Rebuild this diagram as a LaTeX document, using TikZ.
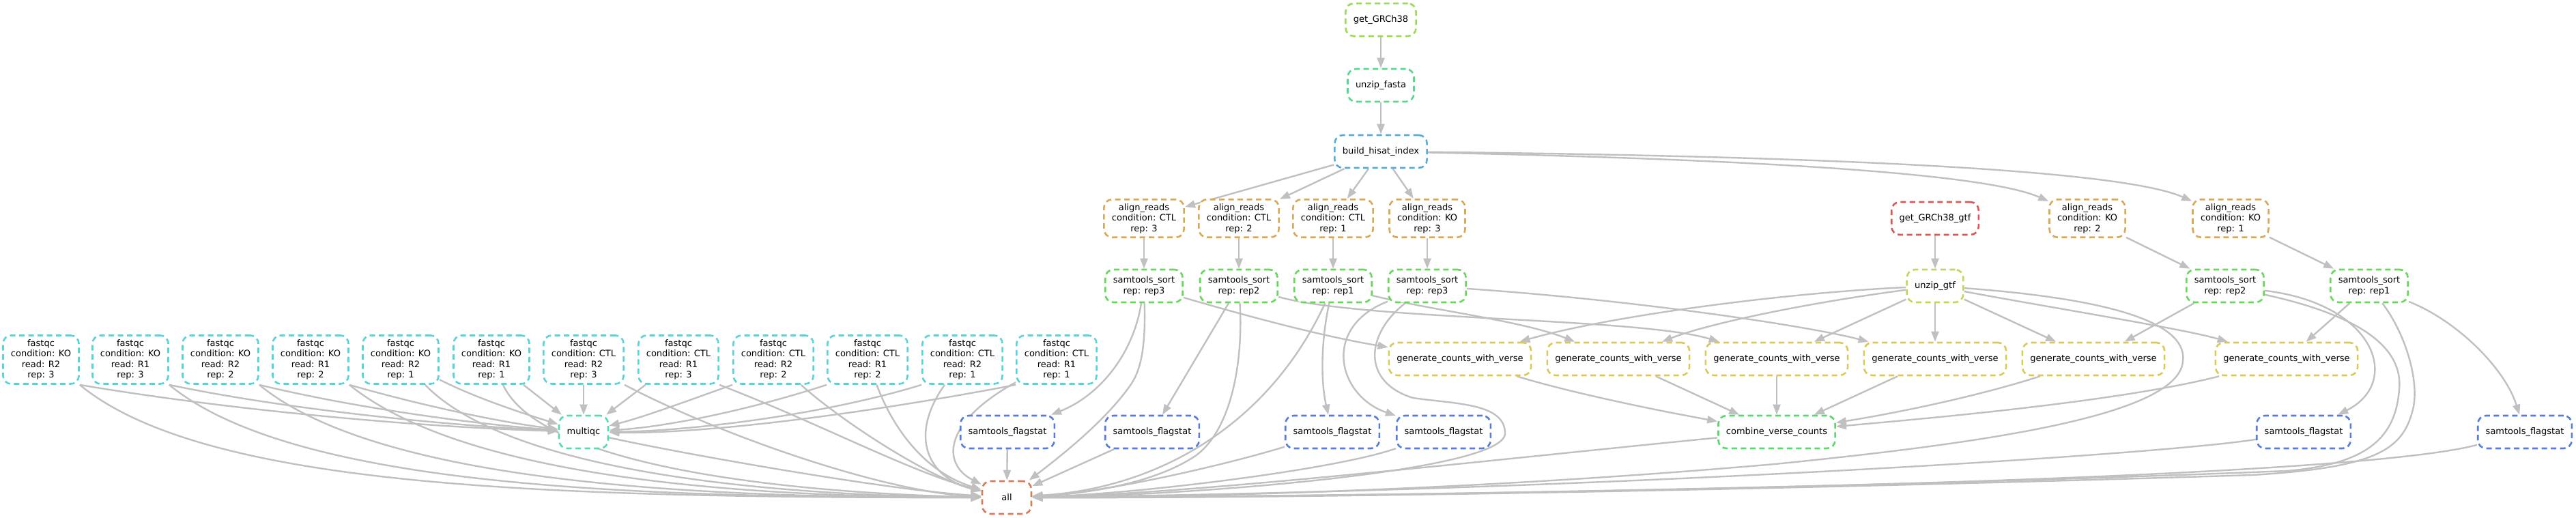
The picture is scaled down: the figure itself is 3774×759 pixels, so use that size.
\documentclass[tikz,border=0pt]{standalone}
\usepackage{fontspec}
\setmainfont{DejaVu Sans}
\usetikzlibrary{arrows.meta,backgrounds}
\definecolor{cgrch}{HTML}{9CD957}
\definecolor{cufa}{HTML}{57D98D}
\definecolor{cbhi}{HTML}{57ABD9}
\definecolor{cal}{HTML}{D9A857}
\definecolor{cso}{HTML}{64D957}
\definecolor{cgtf}{HTML}{D95757}
\definecolor{cugtf}{HTML}{BFD957}
\definecolor{cv}{HTML}{D9CA57}
\definecolor{ccvc}{HTML}{57D96B}
\definecolor{cfs}{HTML}{577BD9}
\definecolor{cfq}{HTML}{57D3D9}
\definecolor{cmq}{HTML}{57D9B5}
\definecolor{call}{HTML}{D97B57}
\definecolor{eg}{HTML}{C0C0C0}
\begin{document}
\begin{tikzpicture}[x=1pt,y=-1pt,
  nd/.style={draw, rounded corners=12pt, dash pattern=on 8pt off 5.5pt, line width=2.6pt, fill=white,
    minimum width=72pt, minimum height=48pt, inner xsep=11.5pt, inner ysep=6pt, align=center,
    font=\fontsize{13}{15.5}\selectfont, text=black},
  ed/.style={draw=eg, solid, line width=2.4pt, -{Triangle[length=15pt,width=11pt]}},
]
\useasboundingbox (0,0) rectangle (3774,759);

% ---------- nodes ----------
\node[nd,draw=cgrch] (g38) at (2023,29) {get\_GRCh38};
\node[nd,draw=cufa] (ufa) at (2023,125) {unzip\_fasta};
\node[nd,draw=cbhi] (bhi) at (2023,222) {build\_hisat\_index};

\node[nd,draw=cal] (aC3) at (1676,320) {align\_reads\\condition: CTL\\rep: 3};
\node[nd,draw=cal] (aC2) at (1815,320) {align\_reads\\condition: CTL\\rep: 2};
\node[nd,draw=cal] (aC1) at (1953,320) {align\_reads\\condition: CTL\\rep: 1};
\node[nd,draw=cal] (aK3) at (2091,320) {align\_reads\\condition: KO\\rep: 3};
\node[nd,draw=cal] (aK2) at (3058,320) {align\_reads\\condition: KO\\rep: 2};
\node[nd,draw=cal] (aK1) at (3268,320) {align\_reads\\condition: KO\\rep: 1};
\node[nd,draw=cgtf] (gtf) at (2835,320) {get\_GRCh38\_gtf};

\node[nd,draw=cso] (sC3) at (1676,419) {samtools\_sort\\rep: rep3};
\node[nd,draw=cso] (sC2) at (1815,419) {samtools\_sort\\rep: rep2};
\node[nd,draw=cso] (sC1) at (1953,419) {samtools\_sort\\rep: rep1};
\node[nd,draw=cso] (sK3) at (2091,419) {samtools\_sort\\rep: rep3};
\node[nd,draw=cso] (sK2) at (3260,419) {samtools\_sort\\rep: rep2};
\node[nd,draw=cso] (sK1) at (3471,419) {samtools\_sort\\rep: rep1};
\node[nd,draw=cugtf] (ugtf) at (2835,419) {unzip\_gtf};

\node[nd,draw=cfq] (fq1) at (60,527) {fastqc\\condition: KO\\read: R2\\rep: 3};
\node[nd,draw=cfq] (fq2) at (191,527) {fastqc\\condition: KO\\read: R1\\rep: 3};
\node[nd,draw=cfq] (fq3) at (323,527) {fastqc\\condition: KO\\read: R2\\rep: 2};
\node[nd,draw=cfq] (fq4) at (455,527) {fastqc\\condition: KO\\read: R1\\rep: 2};
\node[nd,draw=cfq] (fq5) at (587,527) {fastqc\\condition: KO\\read: R2\\rep: 1};
\node[nd,draw=cfq] (fq6) at (720,527) {fastqc\\condition: KO\\read: R1\\rep: 1};
\node[nd,draw=cfq] (fq7) at (855,527) {fastqc\\condition: CTL\\read: R2\\rep: 3};
\node[nd,draw=cfq] (fq8) at (994,527) {fastqc\\condition: CTL\\read: R1\\rep: 3};
\node[nd,draw=cfq] (fq9) at (1133,527) {fastqc\\condition: CTL\\read: R2\\rep: 2};
\node[nd,draw=cfq] (fq10) at (1271,527) {fastqc\\condition: CTL\\read: R1\\rep: 2};
\node[nd,draw=cfq] (fq11) at (1410,527) {fastqc\\condition: CTL\\read: R2\\rep: 1};
\node[nd,draw=cfq] (fq12) at (1548,527) {fastqc\\condition: CTL\\read: R1\\rep: 1};

\node[nd,draw=cv] (v1) at (2139,526) {generate\_counts\_with\_verse};
\node[nd,draw=cv] (v2) at (2371,526) {generate\_counts\_with\_verse};
\node[nd,draw=cv] (v3) at (2603,526) {generate\_counts\_with\_verse};
\node[nd,draw=cv] (v4) at (2835,526) {generate\_counts\_with\_verse};
\node[nd,draw=cv] (v5) at (3067,526) {generate\_counts\_with\_verse};
\node[nd,draw=cv] (v6) at (3350,526) {generate\_counts\_with\_verse};

\node[nd,draw=cmq] (mq) at (855,633) {multiqc};
\node[nd,draw=cfs] (fs1) at (1476,633) {samtools\_flagstat};
\node[nd,draw=cfs] (fs2) at (1688,633) {samtools\_flagstat};
\node[nd,draw=cfs] (fs3) at (1952,633) {samtools\_flagstat};
\node[nd,draw=cfs] (fs4) at (2115,633) {samtools\_flagstat};
\node[nd,draw=cfs] (fs5) at (3375,633) {samtools\_flagstat};
\node[nd,draw=cfs] (fs6) at (3699,633) {samtools\_flagstat};
\node[nd,draw=ccvc] (cvc) at (2603,633) {combine\_verse\_counts};

\node[nd,draw=call] (all) at (1475,729) {all};

% ---------- edges ----------
\begin{pgfonlayer}{background}
\draw[ed] (g38) -- (ufa);
\draw[ed] (ufa) -- (bhi);
\draw[ed] (bhi) -- (aC3);
\draw[ed] (bhi) -- (aC2);
\draw[ed] (bhi) -- (aC1);
\draw[ed] (bhi) -- (aK3);
\draw[ed] (bhi) .. controls (2500,232) and (2900,250) .. (aK2);
\draw[ed] (bhi) .. controls (2600,228) and (3100,245) .. (aK1);
\draw[ed] (gtf) -- (ugtf);
\draw[ed] (aC3) -- (sC3);
\draw[ed] (aC2) -- (sC2);
\draw[ed] (aC1) -- (sC1);
\draw[ed] (aK3) -- (sK3);
\draw[ed] (aK2) -- (sK2);
\draw[ed] (aK1) -- (sK1);

% sort -> verse
\draw[ed] (sC3) .. controls (1850,470) and (1950,495) .. (v1);
\draw[ed] (sC2) .. controls (2000,470) and (2400,465) .. (v3);
\draw[ed] (sC1) .. controls (2100,455) and (2230,470) .. (v2);
\draw[ed] (sK3) .. controls (2400,440) and (2650,478) .. (v4);
\draw[ed] (sK2) -- (v5);
\draw[ed] (sK1) -- (v6);

% unzip_gtf -> verse
\draw[ed] (ugtf) .. controls (2600,430) and (2350,465) .. (v1);
\draw[ed] (ugtf) .. controls (2640,445) and (2500,475) .. (v2);
\draw[ed] (ugtf) -- (v3);
\draw[ed] (ugtf) -- (v4);
\draw[ed] (ugtf) -- (v5);
\draw[ed] (ugtf) .. controls (3000,450) and (3200,482) .. (v6);

% verse -> combine
\draw[ed] (v1) .. controls (2300,575) and (2420,600) .. (cvc);
\draw[ed] (v2) -- (cvc);
\draw[ed] (v3) -- (cvc);
\draw[ed] (v4) -- (cvc);
\draw[ed] (v5) .. controls (2900,580) and (2780,605) .. (cvc);
\draw[ed] (v6) .. controls (3100,590) and (2800,615) .. (cvc);

% sort -> flagstat
\draw[ed] (sC3) .. controls (1660,520) and (1610,580) .. (fs1);
\draw[ed] (sC2) -- (fs2);
\draw[ed] (sC1) .. controls (1935,500) and (1935,560) .. (fs3);
\draw[ed] (sK3) .. controls (1935,480) and (1960,580) .. (fs4);
\draw[ed] (sK2) .. controls (3480,445) and (3520,560) .. (fs5);
\draw[ed] (sK1) .. controls (3600,470) and (3670,540) .. (fs6);

% fastqc -> multiqc
\draw[ed] (fq1.south east) .. controls (330,600) and (600,625) .. (mq);
\draw[ed] (fq2.south east) .. controls (420,600) and (650,623) .. (mq);
\draw[ed] (fq3.south east) .. controls (520,598) and (700,622) .. (mq);
\draw[ed] (fq4.south east) .. controls (620,595) and (740,620) .. (mq);
\draw[ed] (fq5) .. controls (700,585) and (780,610) .. (mq);
\draw[ed] (fq6) -- (mq);
\draw[ed] (fq7) -- (mq);
\draw[ed] (fq8) -- (mq);
\draw[ed] (fq9.south west) .. controls (1000,590) and (940,612) .. (mq);
\draw[ed] (fq10.south west) .. controls (1100,600) and (980,625) .. (mq);
\draw[ed] (fq11.south west) .. controls (1200,610) and (1000,632) .. (mq);
\draw[ed] (fq12.south west) .. controls (1300,600) and (1050,636) .. (mq);

% -> all, from the left
\draw[ed] (fq1.south east) .. controls (300,715) and (800,729) .. (all);
\draw[ed] (fq2.south east) .. controls (432,715) and (932,729) .. (all);
\draw[ed] (fq3.south east) .. controls (564,715) and (1064,729) .. (all);
\draw[ed] (fq4.south east) .. controls (695,712) and (1150,728) .. (all);
\draw[ed] (fq5) .. controls (760,705) and (1200,727) .. (all);
\draw[ed] (fq6) .. controls (800,700) and (1250,725) .. (all);
\draw[ed] (fq7.south east) .. controls (1060,640) and (1300,722) .. (all);
\draw[ed] (mq) .. controls (1000,665) and (1300,718) .. (all);
\draw[ed] (fq8.south east) .. controls (1200,620) and (1330,690) .. (all);
\draw[ed] (fq9) .. controls (1230,615) and (1360,700) .. (all);
\draw[ed] (fq10) .. controls (1305,620) and (1350,690) .. (all);
\draw[ed] (fq11) .. controls (1330,640) and (1360,700) .. (all);
\draw[ed] (fq12) .. controls (1380,620) and (1380,680) .. (all);

% -> all, from above and the right
\draw[ed] (fs1) -- (all);
\draw[ed] (fs2) -- (all);
\draw[ed] (sC3) .. controls (1679,520) and (1668,548) .. (1655,566) .. controls (1615,622) and (1545,675) .. (all);
\draw[ed] (sC2) .. controls (1822,540) and (1800,640) .. (1745,672) .. controls (1680,712) and (1580,724) .. (all);
\draw[ed] (sC1) .. controls (1860,620) and (1700,715) .. (all);
\draw[ed] (fs3) .. controls (1800,680) and (1620,722) .. (all);
\draw[ed] (fs4) .. controls (1950,690) and (1650,725) .. (all);
\draw[ed] (sK3) .. controls (2000,490) and (1995,560) .. (2070,583) .. controls (2130,592) and (2205,590) .. (2205,635) .. controls (2205,690) and (1750,726) .. (all);
\draw[ed] (cvc) .. controls (2200,672) and (1750,724) .. (all);
\draw[ed] (ugtf) .. controls (3120,440) and (3205,480) .. (3198,530) .. controls (3190,610) and (2900,650) .. (2600,680) .. controls (2200,715) and (1800,728) .. (all);
\draw[ed] (sK2) .. controls (3470,465) and (3520,515) .. (3515,570) .. controls (3510,640) and (3470,680) .. (3350,690) .. controls (2700,716) and (1900,729) .. (all);
\draw[ed] (sK1) .. controls (3525,490) and (3545,560) .. (3535,600) .. controls (3520,660) and (3480,685) .. (3300,696) .. controls (2600,718) and (1900,730) .. (all);
\draw[ed] (fs5) .. controls (3150,668) and (2300,720) .. (all);
\draw[ed] (fs6) .. controls (3450,700) and (2400,725) .. (all);
\end{pgfonlayer}
\end{tikzpicture}
\end{document}
